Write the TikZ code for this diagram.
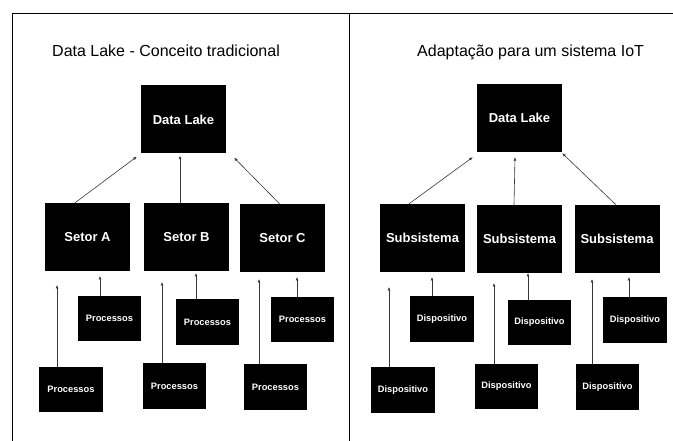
\documentclass[tikz,border=0pt]{standalone}
\usepackage{fontspec}
\setmainfont{Liberation Sans}
\usetikzlibrary{arrows.meta,positioning,calc}
\definecolor{linkgray}{RGB}{55,55,55}

\begin{document}
\begin{tikzpicture}[
  x=1pt, y=-1pt,
  hub/.style={fill=black, text=white, inner sep=0pt,
    minimum width=85pt, minimum height=68pt,
    font=\bfseries\fontsize{13}{15}\selectfont},
  leaf/.style={fill=black, text=white, inner sep=0pt,
    minimum width=63.5pt, minimum height=45.5pt,
    font=\bfseries\fontsize{9.3}{11}\selectfont},
  link/.style={-{Latex[length=3.5pt,width=3pt]}, linkgray, line width=0.6pt},
  frame/.style={line width=1pt},
  ttl/.style={font=\fontsize{16}{19}\selectfont, anchor=base west, inner sep=0pt},
]
\useasboundingbox (0,0) rectangle (673,441);
% outer frame and divider
\draw[frame] (12,441) -- (12,14) -- (673,14);
\draw[frame] (349,14) -- (349,441);
% titles
\node[ttl] (ttlL) at (52,57) {Data Lake - Conceito tradicional};
\node[ttl] (ttlR) at (417,57) {Adaptação para um sistema IoT};
% traditional concept
\node[hub] (lake1) at (183.5,119.5) {Data Lake};
\node[hub] (setA) at (87.5,237) {Setor A};
\node[hub] (setB) at (186.5,237) {Setor B};
\node[hub] (setC) at (282.5,238.5) {Setor C};
\draw[link] ([xshift=-12.5pt]setA.north) -- ([xshift=-4pt,yshift=-3pt]lake1.south west);
\draw[link] ([xshift=-6.5pt]setB.north) -- ([xshift=-3.5pt,yshift=-2pt]lake1.south);
\draw[link] ([xshift=-2.5pt]setC.north) -- ([xshift=8pt,yshift=-4pt]lake1.south east);
% IoT adaptation
\node[hub] (lake2) at (519.5,118) {Data Lake};
\node[hub] (subA) at (422.5,238) {Subsistema};
\node[hub] (subB) at (519.5,239) {Subsistema};
\node[hub] (subC) at (617,239) {Subsistema};
\draw[link] ([xshift=-13.5pt]subA.north) -- ([xshift=-4pt,yshift=-5pt]lake2.south west);
\draw[link] ([xshift=-5.5pt]subB.north) -- ([xshift=-4.5pt,yshift=-5pt]lake2.south);
\draw[link] ([xshift=-1pt]subC.north) -- ([yshift=-1pt]lake2.south east);
% leaves: name/centre x/centre y/arrow x/arrow end y/text
\foreach \n/\cx/\cy/\ax/\ty/\t in {
    pa1/109.5/318.5/100/276/Processos, pb1/207.5/322/196/273/Processos,
    pc1/302.5/319.5/297/277/Processos, pa2/71/389.5/57/285/Processos,
    pb2/174.5/386/162/282/Processos, pc2/275.5/387/259/279/Processos,
    da1/442/319/432/277/Dispositivo, db1/539.5/322.5/528/273/Dispositivo,
    dc1/635/320/629/277/Dispositivo, da2/403/390/389/287/Dispositivo,
    db2/506.5/386.5/494/283/Dispositivo, dc2/607.5/387/592/279/Dispositivo} {
  \node[leaf] (\n) at (\cx,\cy) {\t};
  \coordinate (\n-end) at (\ax,\ty);
  \draw[link] (\n.north -| \n-end) -- (\n-end);
}
\end{tikzpicture}
\end{document}
